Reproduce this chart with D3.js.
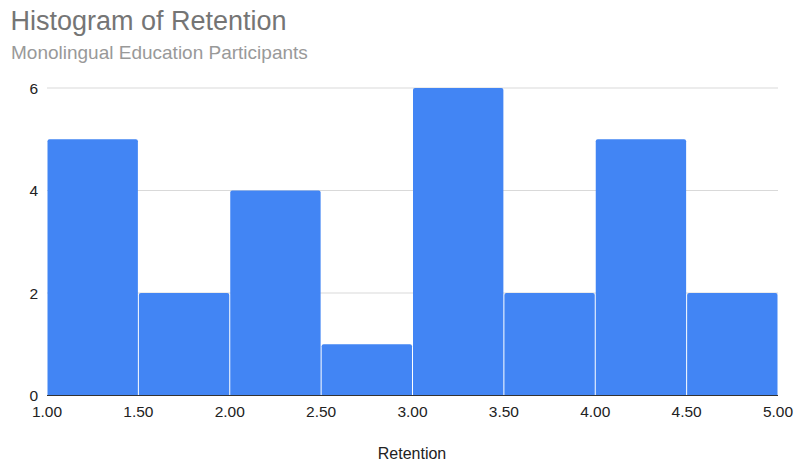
<!DOCTYPE html>
<html><head><meta charset="utf-8">
<script src="https://cdn.jsdelivr.net/npm/d3@7"></script>
<style>body{margin:0;background:#fff;}svg{display:block;font-family:"Liberation Sans",Arial,sans-serif;}</style>
</head><body>
<svg id="c" width="795" height="462"></svg>
<script>
const binStarts = [1.0, 1.5, 2.0, 2.5, 3.0, 3.5, 4.0, 4.5];
const binWidth = 0.5;
const counts = [5, 2, 4, 1, 6, 2, 5, 2];
const xTicks = [1.0, 1.5, 2.0, 2.5, 3.0, 3.5, 4.0, 4.5, 5.0];
const yTicks = [0, 2, 4, 6];
const title = "Histogram of Retention";
const subtitle = "Monolingual Education Participants";
const xTitle = "Retention";

const svg = d3.select("#c");
const L = 47, R = 778, T = 88, B = 395.5;
const x = d3.scaleLinear().domain([1, 5]).range([L, R]);
const y = d3.scaleLinear().domain([0, 6]).range([B, T]);

svg.append("text").attr("x", 10.5).attr("y", 30).attr("font-size", 27).attr("fill", "#757575").text(title);
svg.append("text").attr("x", 11).attr("y", 58.5).attr("font-size", 19).attr("fill", "#999999").text(subtitle);

// gridlines
svg.append("g").selectAll("line").data(yTicks.filter(d => d > 0)).join("line")
  .attr("x1", L).attr("x2", R).attr("y1", d => y(d)).attr("y2", d => y(d))
  .attr("stroke", "#d9d9d9").attr("stroke-width", 1.2);

// bars
const bars = svg.append("g");
binStarts.forEach((s, i) => {
  const x0 = x(s) + 0.5, x1 = x(s + binWidth) - 0.5;
  const yt = y(counts[i]), yb = y(0);
  const r = 2;
  const p = `M${x0},${yb} L${x0},${yt + r} Q${x0},${yt} ${x0 + r},${yt} L${x1 - r},${yt} Q${x1},${yt} ${x1},${yt + r} L${x1},${yb} Z`;
  bars.append("path").attr("d", p).attr("fill", "#4285f4");
});

// baseline
svg.append("line").attr("x1", L).attr("x2", R).attr("y1", B).attr("y2", B)
  .attr("stroke", "#333").attr("stroke-width", 1.2);

// y labels
svg.append("g").selectAll("text").data(yTicks).join("text")
  .attr("x", 38).attr("y", d => y(d) + 5.5).attr("text-anchor", "end")
  .attr("font-size", 15.5).attr("fill", "#222").text(d => d);

// x labels
svg.append("g").selectAll("text").data(xTicks).join("text")
  .attr("x", d => x(d)).attr("y", 417).attr("text-anchor", "middle")
  .attr("font-size", 15.5).attr("fill", "#222").text(d => d.toFixed(2));

svg.append("text").attr("x", 412).attr("y", 459).attr("text-anchor", "middle")
  .attr("font-size", 16).attr("fill", "#222").text(xTitle);
</script>
</body></html>
